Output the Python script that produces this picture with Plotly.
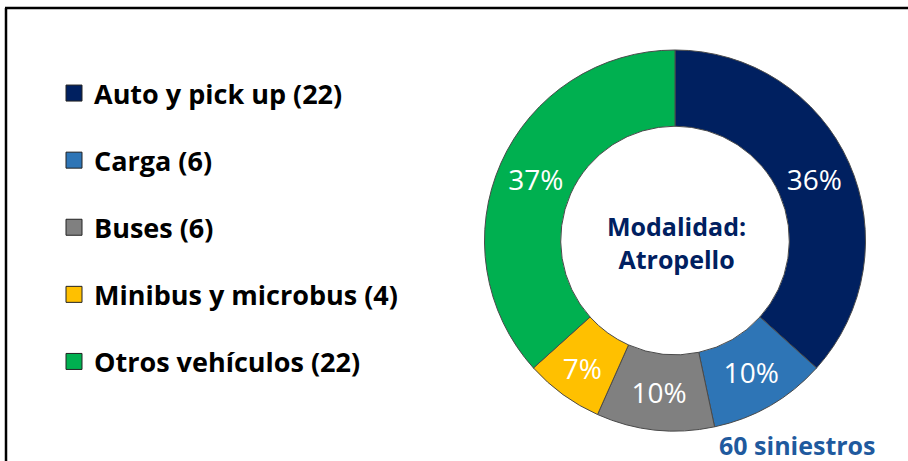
import plotly.graph_objects as go

categories = ["Auto y pick up", "Carga", "Buses", "Minibus y microbus", "Otros vehículos"]
values = [22, 6, 6, 4, 22]
pct_labels = ["36%", "10%", "10%", "7%", "37%"]
colors = ["#002060", "#2E75B6", "#808080", "#FFC000", "#00B050"]
center_text = "Modalidad:<br>Atropello"
total_text = "60 siniestros"

W, H = 908, 461
FONT = "Open Sans"

fig = go.Figure()

fig.add_trace(go.Pie(
    labels=categories,
    values=values,
    text=pct_labels,
    textinfo="text",
    textposition="inside",
    insidetextorientation="horizontal",
    textfont=dict(family=FONT, size=28, color="white"),
    hole=0.6,
    sort=False,
    direction="clockwise",
    rotation=0,
    marker=dict(colors=colors, line=dict(color="#4a4a4a", width=1)),
    domain=dict(x=[481 / W, 869 / W], y=[1 - 431 / H, 1 - 50 / H]),
    showlegend=False,
    hoverinfo="label+value+percent",
))

# legend entries (one group per category so spacing can be controlled)
for i, (cat, val, col) in enumerate(zip(categories, values, colors)):
    fig.add_trace(go.Scatter(
        x=[None], y=[None],
        mode="markers",
        name=f"{cat} ({val})",
        legendgroup=f"g{i}",
        marker=dict(symbol="square", size=16, color=col, line=dict(color="#222222", width=1)),
        hoverinfo="skip",
    ))

fig.update_layout(
    width=W, height=H,
    margin=dict(l=0, r=0, t=0, b=0),
    paper_bgcolor="white",
    plot_bgcolor="white",
    xaxis=dict(visible=False),
    yaxis=dict(visible=False),
    legend=dict(
        x=54 / W, y=1 - 69 / H,
        xanchor="left", yanchor="top",
        font=dict(family=FONT, size=27, color="black", weight="bold"),
        tracegroupgap=29,
        bgcolor="rgba(0,0,0,0)",
        traceorder="grouped",
    ),
    annotations=[
        dict(text=center_text, x=676 / W, y=1 - 243 / H, xref="paper", yref="paper",
             showarrow=False, align="center", xanchor="center", yanchor="middle",
             font=dict(family=FONT, size=25, color="#002060", weight="bold")),
        dict(text=total_text, x=797 / W, y=1 - 445 / H, xref="paper", yref="paper",
             showarrow=False, xanchor="center", yanchor="middle",
             font=dict(family=FONT, size=25, color="#1F5A9E", weight="bold")),
    ],
    shapes=[
        dict(type="line", xref="paper", yref="paper", x0=5 / W, x1=1.0, y0=1 - 8 / H, y1=1 - 8 / H,
             line=dict(color="black", width=2.5)),
        dict(type="line", xref="paper", yref="paper", x0=6 / W, x1=6 / W, y0=0, y1=1 - 8 / H,
             line=dict(color="black", width=2.5)),
    ],
)

fig.write_html("out.html", config={"displayModeBar": False},
               post_script="document.body.style.margin='0';document.body.style.overflow='hidden';")
